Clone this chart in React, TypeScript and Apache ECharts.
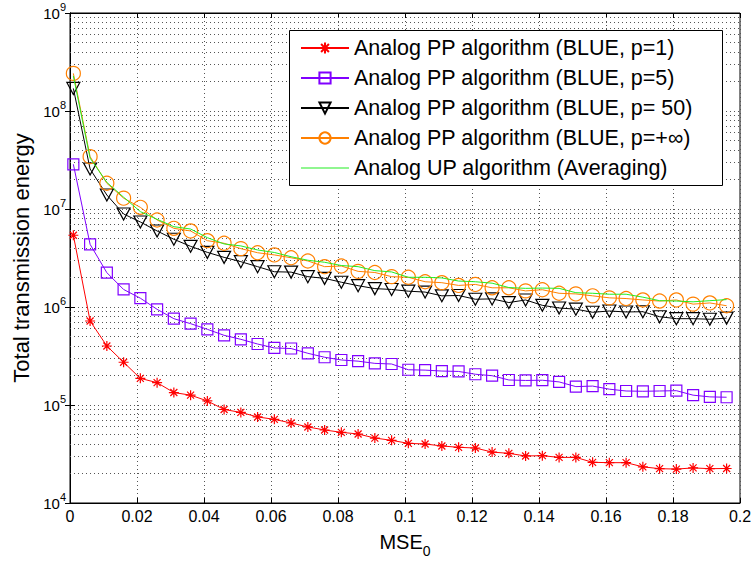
import React, { useEffect, useRef } from "react";
import * as echarts from "echarts";

const mse0 = [0.001, 0.006, 0.011, 0.016, 0.021, 0.026, 0.031, 0.036, 0.041, 0.046, 0.051, 0.056, 0.061, 0.066, 0.071, 0.076, 0.081, 0.086, 0.091, 0.096, 0.101, 0.106, 0.111, 0.116, 0.121, 0.126, 0.131, 0.136, 0.141, 0.146, 0.151, 0.156, 0.161, 0.166, 0.171, 0.176, 0.181, 0.186, 0.191, 0.196];

const blueP1 = [5.4e6, 7.2e5, 4.0e5, 2.73e5, 1.87e5, 1.69e5, 1.34e5, 1.26e5, 1.10e5, 9.0e4, 8.4e4, 7.55e4, 7.14e4, 6.55e4, 5.97e4, 5.56e4, 5.26e4, 5.06e4, 4.6e4, 4.36e4, 4.06e4, 4.0e4, 3.82e4, 3.7e4, 3.64e4, 3.31e4, 3.21e4, 3.02e4, 3.04e4, 2.92e4, 2.92e4, 2.6e4, 2.58e4, 2.58e4, 2.34e4, 2.24e4, 2.22e4, 2.28e4, 2.24e4, 2.25e4];
const blueP5 = [2.86e7, 4.36e6, 2.24e6, 1.51e6, 1.23e6, 9.47e5, 7.6e5, 6.76e5, 5.92e5, 5.14e5, 4.68e5, 4.19e5, 3.82e5, 3.77e5, 3.37e5, 3.07e5, 2.88e5, 2.8e5, 2.66e5, 2.62e5, 2.29e5, 2.27e5, 2.22e5, 2.2e5, 2.06e5, 1.99e5, 1.8e5, 1.78e5, 1.79e5, 1.72e5, 1.54e5, 1.56e5, 1.45e5, 1.39e5, 1.38e5, 1.39e5, 1.4e5, 1.26e5, 1.21e5, 1.2e5];
const blueP50 = [1.7e8, 2.56e7, 1.39e7, 8.9e6, 7.37e6, 5.97e6, 4.91e6, 4.16e6, 3.61e6, 3.21e6, 2.9e6, 2.58e6, 2.29e6, 2.27e6, 2.04e6, 1.96e6, 1.79e6, 1.65e6, 1.54e6, 1.51e6, 1.45e6, 1.42e6, 1.3e6, 1.31e6, 1.2e6, 1.21e6, 1.11e6, 1.18e6, 1.04e6, 9.77e5, 9.5e5, 8.83e5, 9.1e5, 8.9e5, 8.95e5, 7.96e5, 7.6e5, 7.6e5, 7.5e5, 7.7e5];
const blueInf = [2.42e8, 3.42e7, 1.83e7, 1.29e7, 1.04e7, 7.73e6, 6.35e6, 5.97e6, 4.75e6, 4.47e6, 3.94e6, 3.58e6, 3.4e6, 3.18e6, 2.95e6, 2.58e6, 2.62e6, 2.31e6, 2.25e6, 2.04e6, 2.01e6, 1.81e6, 1.77e6, 1.66e6, 1.7e6, 1.57e6, 1.57e6, 1.46e6, 1.5e6, 1.38e6, 1.36e6, 1.3e6, 1.24e6, 1.22e6, 1.18e6, 1.15e6, 1.18e6, 1.07e6, 1.1e6, 1.03e6];
const averaging = [2.28e8, 3.3e7, 1.87e7, 1.32e7, 9.4e6, 7.85e6, 6.6e6, 6.25e6, 5.1e6, 4.4e6, 4.2e6, 3.82e6, 3.6e6, 3.26e6, 3.0e6, 2.86e6, 2.65e6, 2.58e6, 2.35e6, 2.28e6, 2.01e6, 2.01e6, 1.98e6, 1.84e6, 1.81e6, 1.75e6, 1.58e6, 1.55e6, 1.56e6, 1.55e6, 1.4e6, 1.38e6, 1.35e6, 1.35e6, 1.26e6, 1.16e6, 1.15e6, 1.13e6, 1.16e6, 1.19e6];

const seriesNames = [
  "Analog PP algorithm (BLUE, p=1)",
  "Analog PP algorithm (BLUE, p=5)",
  "Analog PP algorithm (BLUE, p= 50)",
  "Analog PP algorithm (BLUE, p=+\u221e)",
  "Analog UP algorithm (Averaging)",
];

const minorGridValues = [
  2e4, 3e4, 4e4, 5e4, 6e4, 7e4, 8e4, 9e4,
  2e5, 3e5, 4e5, 5e5, 6e5, 7e5, 8e5, 9e5,
  2e6, 3e6, 4e6, 5e6, 6e6, 7e6, 8e6, 9e6,
  2e7, 3e7, 4e7, 5e7, 6e7, 7e7, 8e7, 9e7,
  2e8, 3e8, 4e8, 5e8, 6e8, 7e8, 8e8, 9e8,
];

const FONT = "'Liberation Sans', Arial, Helvetica, sans-serif";
const ASTERISK = "path://M5 0 L5 10 M0 5 L10 5 M1.5 1.5 L8.5 8.5 M1.5 8.5 L8.5 1.5";
const TRI_DOWN = "path://M0 0 L10 0 L5 9 Z";
const PLAIN_LINE = "path://M0 0 L48 0 L48 1 L0 1 Z";

function pairs(ys: number[]) {
  return ys.map((y, i) => [mse0[i], y]);
}

export default function App() {
  const ref = useRef<HTMLDivElement>(null);
  useEffect(() => {
    if (!ref.current) return;
    const chart = echarts.init(ref.current, null, { renderer: "svg" });
    const dotted = { color: "#555", width: 1, type: [1, 3] as any };
    const option: any = {
      animation: false,
      backgroundColor: "#fff",
      textStyle: { fontFamily: FONT },
      grid: { left: 70, right: 15, top: 13, bottom: 64, show: true, borderColor: "#000", borderWidth: 1, backgroundColor: "transparent" },
      xAxis: [
        {
          type: "value",
          min: 0,
          max: 0.2,
          interval: 0.02,
          name: "{a|MSE}{s|0}",
          nameLocation: "middle",
          nameGap: 23,
          nameTextStyle: {
            rich: {
              a: { fontSize: 20, color: "#000", fontFamily: FONT },
              s: { fontSize: 14, color: "#000", fontFamily: FONT, padding: [18, 0, 0, 0] },
            },
          },
          axisLine: { show: true, lineStyle: { color: "#000" } },
          axisTick: { inside: true, length: 5, lineStyle: { color: "#000" } },
          axisLabel: {
            color: "#000",
            fontSize: 16,
            margin: 5,
            fontFamily: FONT,
            formatter: (v: number) => String(+v.toFixed(2)),
          },
          splitLine: { show: true, lineStyle: dotted },
        },
        {
          type: "value",
          position: "top",
          min: 0,
          max: 0.2,
          interval: 0.02,
          axisLine: { show: true, lineStyle: { color: "#000" } },
          axisTick: { inside: true, length: 5, lineStyle: { color: "#000" } },
          axisLabel: { show: false },
          splitLine: { show: false },
        },
      ],
      yAxis: [
        {
          type: "log",
          logBase: 10,
          min: 1e4,
          max: 1e9,
          name: "Total transmission energy",
          nameLocation: "middle",
          nameGap: 37,
          nameTextStyle: { fontSize: 22, color: "#000", fontFamily: FONT },
          axisLine: { show: true, lineStyle: { color: "#000" } },
          axisTick: { inside: true, length: 5, lineStyle: { color: "#000" } },
          axisLabel: {
            color: "#000",
            margin: 4,
            formatter: (v: number) => `{b|10}{s|${Math.round(Math.log10(v))}}`,
            rich: {
              b: { fontSize: 15, color: "#000", fontFamily: FONT },
              s: { fontSize: 11, color: "#000", fontFamily: FONT, padding: [0, 0, 12, 0] },
            },
          },
          splitLine: { show: true, lineStyle: dotted },
        },
        {
          type: "log",
          logBase: 10,
          min: 1e4,
          max: 1e9,
          position: "right",
          axisLine: { show: true, lineStyle: { color: "#000" } },
          axisTick: { inside: true, length: 5, lineStyle: { color: "#000" } },
          axisLabel: { show: false },
          splitLine: { show: false },
        },
      ],
      legend: {
        orient: "vertical",
        left: 300,
        top: 37,
        padding: 0,
        itemWidth: 48,
        itemHeight: 14,
        itemGap: 8,
        z: 10,
        textStyle: { fontSize: 21.5, lineHeight: 22, color: "#000", fontFamily: FONT },
        data: [
          { name: seriesNames[0] },
          { name: seriesNames[1] },
          { name: seriesNames[2] },
          { name: seriesNames[3] },
          { name: seriesNames[4], icon: PLAIN_LINE, itemStyle: { color: "#22ee22" } },
        ],
      },
      graphic: [
        {
          type: "rect",
          z: 8,
          shape: { x: 289.5, y: 30.5, width: 433, height: 155 },
          style: { fill: "#fff", stroke: "#000", lineWidth: 1 },
        },
      ],
      series: [
        {
          name: seriesNames[0],
          type: "line",
          data: pairs(blueP1),
          symbol: ASTERISK,
          symbolSize: 10,
          showAllSymbol: true,
          lineStyle: { color: "#ff0000", width: 1 },
          itemStyle: { color: "rgba(0,0,0,0)", borderColor: "#ff0000", borderWidth: 1.2 },
          z: 3,
        },
        {
          name: seriesNames[1],
          type: "line",
          data: pairs(blueP5),
          symbol: "rect",
          symbolSize: 11,
          showAllSymbol: true,
          lineStyle: { color: "#8000ff", width: 1 },
          itemStyle: { color: "rgba(0,0,0,0)", borderColor: "#8000ff", borderWidth: 1.2 },
          z: 3,
        },
        {
          name: seriesNames[2],
          type: "line",
          data: pairs(blueP50),
          symbol: TRI_DOWN,
          symbolSize: [13, 12],
          showAllSymbol: true,
          lineStyle: { color: "#000000", width: 1 },
          itemStyle: { color: "rgba(0,0,0,0)", borderColor: "#000000", borderWidth: 1.2 },
          z: 3,
        },
        {
          name: seriesNames[3],
          type: "line",
          data: pairs(blueInf),
          symbol: "circle",
          symbolSize: 14,
          showAllSymbol: true,
          lineStyle: { color: "#ff8000", width: 1 },
          itemStyle: { color: "rgba(0,0,0,0)", borderColor: "#ff8000", borderWidth: 1.2 },
          z: 3,
        },
        {
          name: seriesNames[4],
          type: "line",
          data: pairs(averaging),
          symbol: "none",
          lineStyle: { color: "#22ee22", width: 1 },
          itemStyle: { color: "#22ee22" },
          z: 4,
          markLine: {
            silent: true,
            symbol: "none",
            label: { show: false },
            lineStyle: { color: "#555", width: 1, type: [1, 3] },
            z: 1,
            data: minorGridValues.map((v) => ({ yAxis: v })),
          },
        },
      ],
    };
    chart.setOption(option);
    return () => chart.dispose();
  }, []);
  return (
    <div
      ref={ref}
      style={{ position: "fixed", left: 0, top: 0, width: 755, height: 567, background: "#fff" }}
    />
  );
}
